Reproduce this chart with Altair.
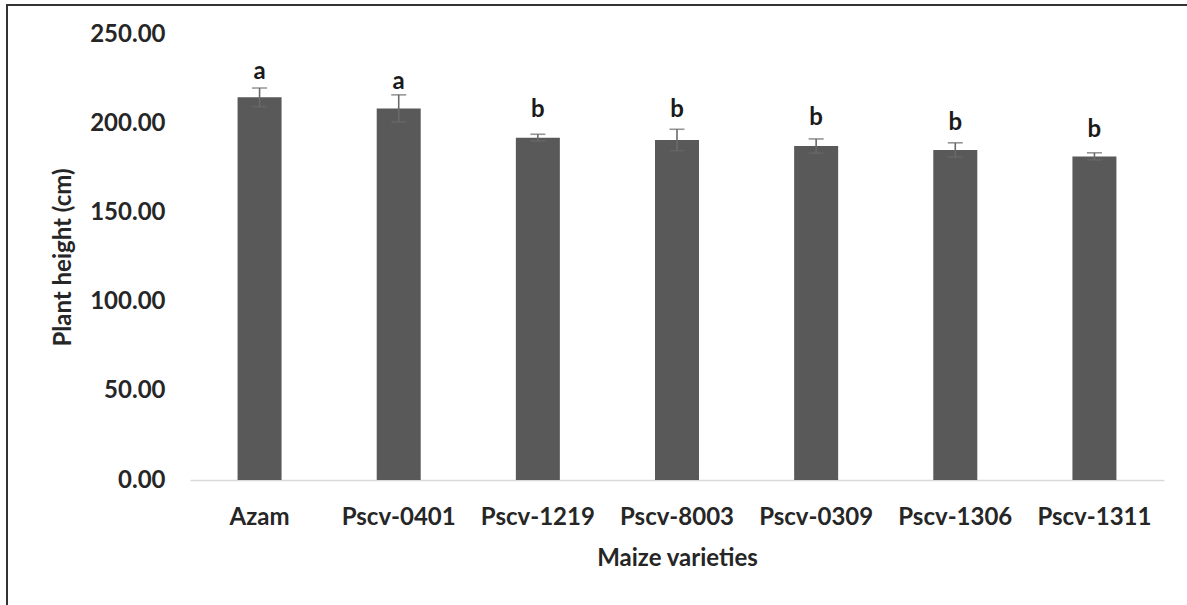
import altair as alt
import pandas as pd

varieties = ["Azam", "Pscv-0401", "Pscv-1219", "Pscv-8003", "Pscv-0309", "Pscv-1306", "Pscv-1311"]
heights = [214.5, 208.3, 191.9, 190.6, 187.2, 185.0, 181.4]
errors = [5.2, 7.6, 1.9, 6.0, 4.0, 4.0, 2.0]
letters = ["a", "a", "b", "b", "b", "b", "b"]
letter_y = [228.7, 223.3, 207.4, 207.4, 202.7, 199.9, 196.2]
y_ticks = [0, 50, 100, 150, 200, 250]

df = pd.DataFrame({
    "variety": varieties,
    "height": heights,
    "err": errors,
    "letter": letters,
    "letter_y": letter_y,
})
df["lo"] = df["height"] - df["err"]
df["hi"] = df["height"] + df["err"]

FONT = "Lato"
W, H = 974, 446

x_enc = alt.X(
    "variety:N",
    sort=varieties,
    scale=alt.Scale(paddingInner=0.68, paddingOuter=0.34),
    axis=alt.Axis(
        title="Maize varieties",
        labelAngle=0,
        ticks=False,
        domainColor="#d9d9d9",
        domainWidth=1.5,
        labelFont=FONT,
        labelFontSize=24,
        labelFontWeight="bold",
        labelColor="#262626",
        labelBaseline="middle",
        labelPadding=37,
        titleFont=FONT,
        titleFontSize=24,
        titleFontWeight="bold",
        titleColor="#262626",
        titleBaseline="middle",
        titleY=78,
    ),
)

y_scale = alt.Scale(domain=[0, 250], nice=False)

bars = alt.Chart(df).mark_bar(size=44, color="#595959").encode(
    x=x_enc,
    y=alt.Y(
        "height:Q",
        scale=y_scale,
        axis=alt.Axis(
            title="Plant height (cm)",
            values=y_ticks,
            format=".2f",
            grid=False,
            domain=False,
            ticks=False,
            labelFont=FONT,
            labelFontSize=24,
            labelFontWeight="bold",
            labelColor="#262626",
            labelPadding=25,
            titleFont=FONT,
            titleFontSize=24,
            titleFontWeight="bold",
            titleColor="#262626",
            titleAngle=270,
            titleBaseline="middle",
            titleAlign="center",
            titleX=-127,
            titleY=H / 2,
        ),
    ),
)

rules = alt.Chart(df).mark_rule(color="#6a6a6a", strokeWidth=1.6).encode(
    x=alt.X("variety:N", sort=varieties),
    y=alt.Y("lo:Q", scale=y_scale),
    y2="hi:Q",
)

caps_hi = alt.Chart(df).mark_tick(color="#6a6a6a", size=15, thickness=1.6, orient="horizontal").encode(
    x=alt.X("variety:N", sort=varieties),
    y=alt.Y("hi:Q", scale=y_scale),
)
caps_lo = alt.Chart(df).mark_tick(color="#6a6a6a", size=15, thickness=1.6, orient="horizontal").encode(
    x=alt.X("variety:N", sort=varieties),
    y=alt.Y("lo:Q", scale=y_scale),
)

text = alt.Chart(df).mark_text(
    font=FONT, fontSize=24, fontWeight="bold", color="#1a1a1a", baseline="middle"
).encode(
    x=alt.X("variety:N", sort=varieties),
    y=alt.Y("letter_y:Q", scale=y_scale),
    text="letter:N",
)

frame_left = alt.Chart(df).mark_rule(color="#333333", strokeWidth=2).encode(
    x=alt.value(-183), y=alt.value(-29), y2=alt.value(H + 140)
)
frame_top = alt.Chart(df).mark_rule(color="#333333", strokeWidth=2).encode(
    x=alt.value(-184), x2=alt.value(W + 40), y=alt.value(-29)
)

chart = alt.layer(bars, rules, caps_hi, caps_lo, text, frame_left, frame_top).properties(
    width=W,
    height=H,
    autosize=alt.AutoSizeParams(type="none"),
    padding={"left": 190, "top": 34, "right": 23, "bottom": 125},
    background="white",
).configure_view(stroke=None)

chart.save("out.html", embed_options={"renderer": "svg", "actions": False})
